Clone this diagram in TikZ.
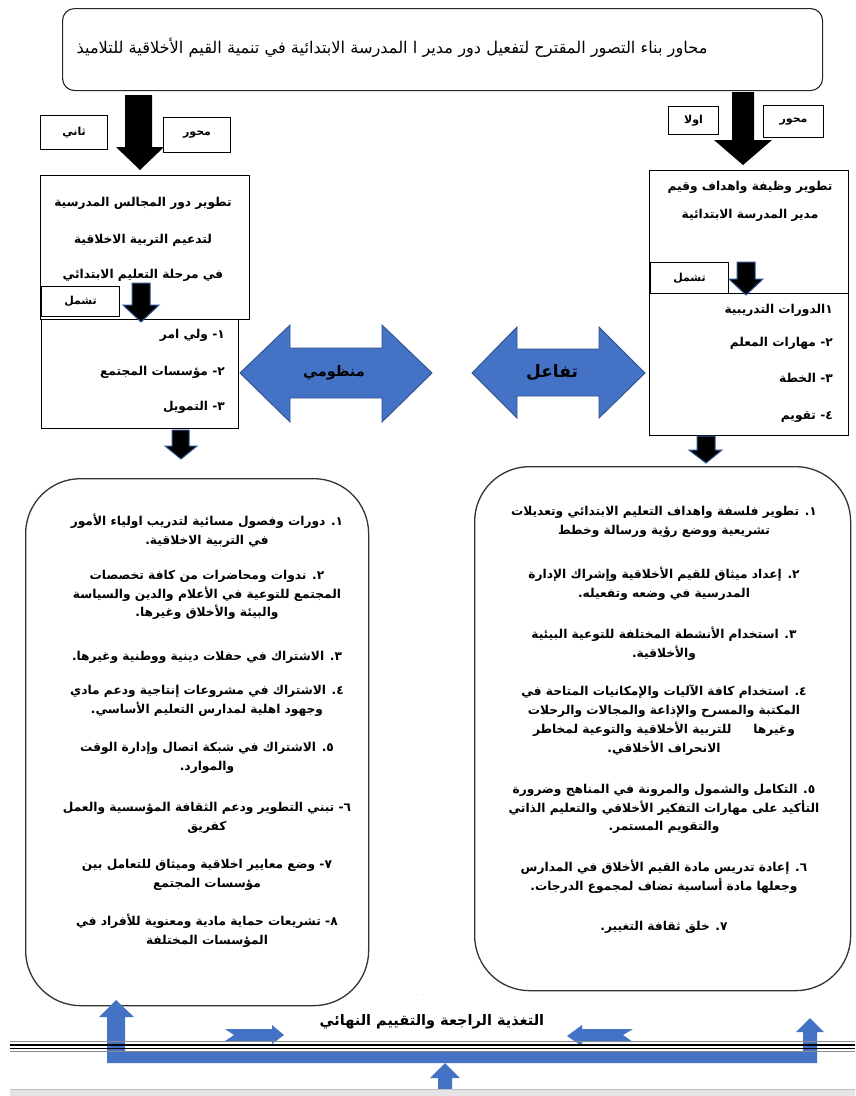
\documentclass[tikz,border=0pt]{standalone}
\usepackage{fontspec}
\TeXXeTstate=1
\newfontfamily\arabicfont[Script=Arabic]{DejaVu Sans}
\newcommand\RL[1]{\beginR#1\endR}
\definecolor{bfill}{HTML}{4472C4}
\definecolor{bline}{HTML}{2F528F}
\tikzset{
  box/.style={draw=black, line width=1.1pt, inner sep=0pt},
  rbox/.style={draw=black!80, line width=1.3pt, rounded corners=55pt, inner sep=0pt},
  lbl/.style={font=\arabicfont\bfseries\fontsize{11}{13}\selectfont, inner sep=0pt},
  txt/.style={font=\arabicfont\bfseries\fontsize{12.2}{18.8}\selectfont, align=center, inner sep=0pt},
  big/.style={font=\arabicfont\bfseries\fontsize{14.5}{16}\selectfont, inner sep=0pt},
  blockarrow/.style={fill=bfill, draw=bline, line width=0.9pt, line join=miter},
  blackarrow/.style={fill=black},
  navyarrow/.style={fill=black, draw=bline, line width=1pt},
  bluebar/.style={fill=bfill}
}
\begin{document}
\begin{tikzpicture}[x=1pt,y=-1pt]
\useasboundingbox (0,0) rectangle (855,1096);
\fill[white] (0,0) rectangle (855,1096);

% title
\node[box, draw=black!85, rounded corners=12pt, minimum width=760, minimum height=82, anchor=north west] (title) at (62,8) {};
\node[font=\arabicfont\fontsize{16.2}{18}\selectfont, inner sep=0pt] (titletext) at (392,48) {\RL{محاور بناء التصور المقترح لتفعيل دور مدير ا المدرسة الابتدائية في تنمية القيم الأخلاقية للتلاميذ}};

% ---------- right column ----------
\node[box, minimum width=199, minimum height=123, anchor=north west] (r2) at (649,170) {};
\node[box, minimum width=199, minimum height=142, anchor=north west] (r3) at (649,293) {};
\fill[blackarrow] (732,92) -- (754,92) -- (754,140) -- (772,140) -- (743,165) -- (714,140) -- (732,140) -- cycle;
\node[box, fill=white, minimum width=50, minimum height=28, anchor=north west] (r1a) at (668,106) {};
\node[lbl] at (r1a) {\RL{اولا}};
\node[box, fill=white, minimum width=60, minimum height=32, anchor=north west] (r1b) at (763,105) {};
\node[lbl] at (r1b) {\RL{محور}};
\node[txt] (r2t1) at (750,187) {\RL{تطوير وظيفة واهداف وقيم}};
\node[txt] (r2t2) at (750,215) {\RL{مدير المدرسة الابتدائية}};
\node[box, minimum width=78, minimum height=31, anchor=north west] (rinc) at (650,262) {};
\node[lbl] at (rinc) {\RL{تشمل}};
\draw[navyarrow] (737,262) -- (755,262) -- (755,279) -- (763,279) -- (746,295) -- (729,279) -- (737,279) -- cycle;
\node[txt, anchor=east] (r3a) at (833,310) {\RL{١الدورات التدريبية}};
\node[txt, anchor=east] (r3b) at (833,343) {\RL{٢- مهارات المعلم}};
\node[txt, anchor=east] (r3c) at (833,378) {\RL{٣- الخطة}};
\node[txt, anchor=east] (r3d) at (833,417) {\RL{٤- تقويم}};
\draw[navyarrow] (697,436) -- (715,436) -- (715,450) -- (722,450) -- (706,463) -- (689,450) -- (697,450) -- cycle;

% ---------- left column ----------
\node[box, minimum width=209, minimum height=144, anchor=north west] (l2) at (40,175) {};
\node[box, minimum width=197, minimum height=109, anchor=north west] (l3) at (41,319) {};
\fill[blackarrow] (125,95) -- (152,95) -- (152,147) -- (164,147) -- (140,170) -- (116,147) -- (125,147) -- cycle;
\node[box, fill=white, minimum width=67, minimum height=34, anchor=north west] (l1a) at (40,115) {};
\node[lbl] at (l1a) {\RL{ثاني}};
\node[box, fill=white, minimum width=67, minimum height=35, anchor=north west] (l1b) at (163,117) {};
\node[lbl] at (l1b) {\RL{محور}};
\node[txt] (l2t1) at (143,203) {\RL{تطوير دور المجالس المدرسية}};
\node[txt] (l2t2) at (143,240) {\RL{لتدعيم التربية الاخلاقية}};
\node[txt] (l2t3) at (143,275) {\RL{في مرحلة التعليم الابتدائي}};
\node[box, fill=white, minimum width=78, minimum height=30, anchor=north west] (linc) at (41,286) {};
\node[lbl] at (linc) {\RL{تشمل}};
\draw[navyarrow] (132,283) -- (150,283) -- (150,305) -- (159,305) -- (141,322) -- (123,305) -- (132,305) -- cycle;
\node[txt, anchor=east] (l3a) at (225,335) {\RL{١- ولي امر}};
\node[txt, anchor=east] (l3b) at (225,372) {\RL{٢- مؤسسات المجتمع}};
\node[txt, anchor=east] (l3c) at (225,407) {\RL{٣- التمويل}};
\draw[navyarrow] (172,430) -- (189,430) -- (189,446) -- (197,446) -- (181,459) -- (165,446) -- (172,446) -- cycle;

% ---------- double arrows ----------
\draw[blockarrow] (240,373) -- (290,325) -- (290,348) -- (382,348) -- (382,325) -- (432,373) -- (382,422) -- (382,398) -- (290,398) -- (290,422) -- cycle;
\node[big] (mand) at (334,373) {\RL{منظومي}};
\draw[blockarrow] (472,373) -- (517,327) -- (517,349) -- (599,349) -- (599,327) -- (645,373) -- (599,418) -- (599,396) -- (517,396) -- (517,418) -- cycle;
\node[big, font=\arabicfont\bfseries\fontsize{17}{19}\selectfont] (tafa) at (552,373) {\RL{تفاعل}};

% ---------- bottom boxes ----------
\node[rbox, minimum width=343, minimum height=527, anchor=north west] (lb) at (25,478) {};
\node[rbox, minimum width=376, minimum height=524, anchor=north west] (rb) at (474,466) {};

\node[txt] (lb1) at (207,531) {\RL{١. دورات وفصول مسائية لتدريب اولياء الأمور}\\\RL{في التربية الاخلاقية.}};
\node[txt] (lb2) at (207,595) {\RL{٢. ندوات ومحاضرات من كافة تخصصات}\\\RL{المجتمع للتوعية في الأعلام والدين والسياسة}\\\RL{والبيئة والأخلاق وغيرها.}};
\node[txt] (lb3) at (207,657) {\RL{٣. الاشتراك في حفلات دينية ووطنية وغيرها.}};
\node[txt] (lb4) at (207,701) {\RL{٤. الاشتراك في مشروعات إنتاجية ودعم مادي}\\\RL{وجهود اهلية لمدارس التعليم الأساسي.}};
\node[txt] (lb5) at (207,758) {\RL{٥. الاشتراك في شبكة اتصال وإدارة الوقت}\\\RL{والموارد.}};
\node[txt] (lb6) at (207,818) {\RL{٦- تبني التطوير ودعم الثقافة المؤسسية والعمل}\\\RL{كفريق}};
\node[txt] (lb7) at (207,875) {\RL{٧- وضع معايير اخلاقية وميثاق للتعامل بين}\\\RL{مؤسسات المجتمع}};
\node[txt] (lb8) at (207,931) {\RL{٨- تشريعات حماية مادية ومعنوية للأفراد في}\\\RL{المؤسسات المختلفة}};

\node[txt] (rb1) at (664,522) {\RL{١. تطوير فلسفة واهداف التعليم الابتدائي وتعديلات}\\\RL{تشريعية ووضع رؤية ورسالة وخطط}};
\node[txt] (rb2) at (664,584) {\RL{٢. إعداد ميثاق للقيم الأخلاقية وإشراك الإدارة}\\\RL{المدرسية في وضعه وتفعيله.}};
\node[txt] (rb3) at (664,644) {\RL{٣. استخدام الأنشطة المختلفة للتوعية البيئية}\\\RL{والأخلاقية.}};
\node[txt] (rb4) at (664,720) {\RL{٤. استخدام كافة الآليات والإمكانيات المتاحة في}\\\RL{المكتبة والمسرح والإذاعة والمجالات والرحلات}\\\RL{وغيرها\hspace{22pt}للتربية الأخلاقية والتوعية لمخاطر}\\\RL{الانحراف الأخلاقي.}};
\node[txt] (rb5) at (664,809) {\RL{٥. التكامل والشمول والمرونة في المناهج وضرورة}\\\RL{التأكيد على مهارات التفكير الأخلاقي والتعليم الذاتي}\\\RL{والتقويم المستمر.}};
\node[txt] (rb6) at (664,877) {\RL{٦. إعادة تدريس مادة القيم الأخلاق في المدارس}\\\RL{وجعلها مادة أساسية تضاف لمجموع الدرجات.}};
\node[txt] (rb7) at (664,927) {\RL{٧. خلق ثقافة التغيير.}};

% ---------- feedback section ----------
\node[font=\fontsize{7}{8}\selectfont, text=black!40, inner sep=0pt] (dots) at (420,995) {. .};
\node[big] (fb) at (432,1022) {\RL{التغذية الراجعة والتقييم النهائي}};
\fill[bluebar] (99,1017) -- (116,1000) -- (134,1017) -- (125,1017) -- (125,1052) -- (803,1052) -- (803,1032) -- (796,1032) -- (810,1018) -- (824,1032) -- (817,1032) -- (817,1063) -- (107,1063) -- (107,1017) -- cycle;
\fill[bluebar] (430,1078) -- (445,1063) -- (460,1078) -- (452,1078) -- (452,1090) -- (438,1090) -- (438,1078) -- cycle;
\fill[bluebar] (225,1029) -- (272,1029) -- (272,1025) -- (284,1035) -- (272,1044) -- (272,1041) -- (225,1041) -- (234,1035) -- cycle;
\fill[bluebar] (633,1029) -- (582,1029) -- (582,1025) -- (567,1036) -- (582,1046) -- (582,1042) -- (633,1042) -- (623,1035) -- cycle;
\draw[black!45, line width=1.2pt] (10,1041.5) -- (855,1041.5);
\draw[black, line width=2pt] (10,1044.5) -- (855,1044.5);
\draw[black, line width=1.5pt] (10,1048.5) -- (855,1048.5);
\draw[black!45, line width=1.2pt] (10,1051.5) -- (855,1051.5);
\fill[black!10] (10,1089) rectangle (855,1096);
\draw[black!25, line width=1pt] (10,1089) -- (855,1089);
\end{tikzpicture}
\end{document}
